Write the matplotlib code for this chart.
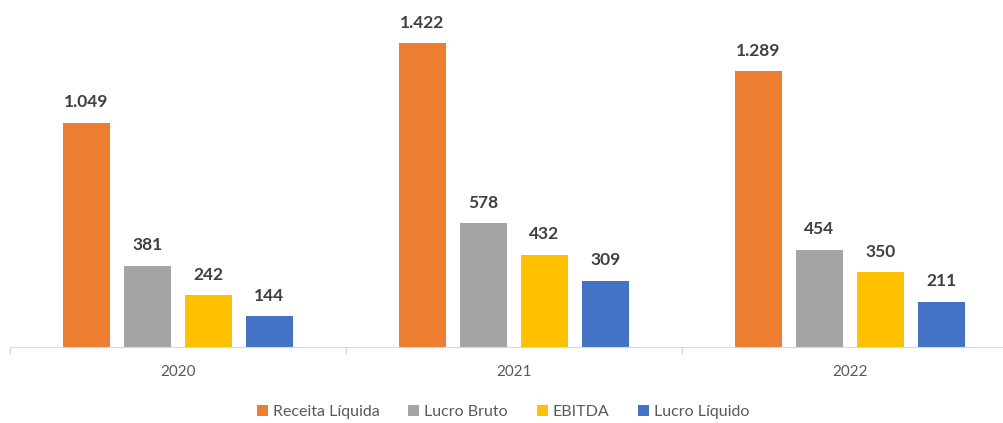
import numpy as np
import matplotlib.pyplot as plt
from matplotlib.patches import Patch

plt.rcParams['font.family'] = ['Lato', 'DejaVu Sans']

anos = ['2020', '2021', '2022']
series = ['Receita Líquida', 'Lucro Bruto', 'EBITDA', 'Lucro Líquido']
receita_liquida = [1049, 1422, 1289]
lucro_bruto = [381, 578, 454]
ebitda = [242, 432, 350]
lucro_liquido = [144, 309, 211]
valores = [receita_liquida, lucro_bruto, ebitda, lucro_liquido]
cores = ['#ED7D31', '#A5A5A5', '#FFC000', '#4472C4']

fig = plt.figure(figsize=(10.04, 4.23), dpi=100)
# eixo vai um pouco além da borda direita, como no original
ax = fig.add_axes([9.7/1004, 76/423, 1008/1004, 342/423])

x = np.arange(len(anos))
largura = 0.14
passo = 0.1815
for i, (vals, cor) in enumerate(zip(valores, cores)):
    pos = x + (i - 1.5) * passo
    barras = ax.bar(pos, vals, width=largura, color=cor, zorder=2)
    for b, v in zip(barras, vals):
        txt = f"{v:,}".replace(",", ".")
        ax.annotate(txt, (b.get_x() + b.get_width() / 2, b.get_height()),
                    xytext=(0, 9), textcoords='offset points',
                    ha='center', va='bottom', fontsize=12.5, fontweight='bold',
                    color='#404040')

ax.set_xlim(-0.5, 2.5)
ax.set_ylim(0, 1600)
ax.set_yticks([])
ax.set_xticks(x)
ax.set_xticklabels(anos, fontsize=11, color='#595959')
ax.tick_params(axis='x', which='major', length=0, pad=13)
ax.set_xticks([-0.5, 0.5, 1.5], minor=True)
ax.tick_params(axis='x', which='minor', length=5, color='#D9D9D9', width=1)
for s in ['top', 'right', 'left']:
    ax.spines[s].set_visible(False)
ax.spines['bottom'].set_color('#D9D9D9')

handles = [Patch(facecolor=c, edgecolor='none') for c in cores]
fig.legend(handles, series, loc='center', bbox_to_anchor=(503/1004, 1 - 412/423),
           ncol=4, frameon=False, fontsize=11.5, handlelength=0.7, handleheight=0.7,
           handletextpad=0.3, columnspacing=1.8, labelcolor='#595959')

fig.savefig('out.png', dpi=100)
